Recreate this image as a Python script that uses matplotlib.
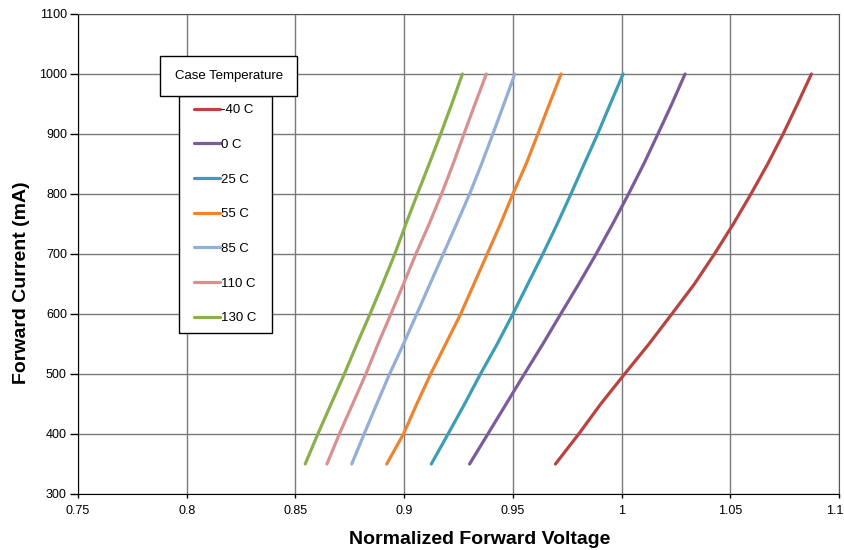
import matplotlib.pyplot as plt
import matplotlib.transforms as mtransforms
from matplotlib.patches import Rectangle

plt.rcParams['font.family'] = ['Liberation Sans', 'DejaVu Sans']

# Forward current points (mA), same for every curve
current = [350, 400, 450, 500, 550, 600, 650, 700, 750, 800, 850, 900, 950, 1000]

# Normalized forward voltage, one list per case temperature
v_m40 = [0.9696, 0.9803, 0.9904, 1.0014, 1.0126, 1.0231, 1.0335, 1.0427, 1.0514,
         1.0595, 1.0672, 1.0743, 1.0809, 1.0873]
v_0 = [0.9301, 0.9385, 0.9469, 0.9553, 0.9638, 0.9720, 0.9803, 0.9883, 0.9959,
       1.0032, 1.0102, 1.0167, 1.0231, 1.0292]
v_25 = [0.9125, 0.9202, 0.9278, 0.9351, 0.9428, 0.9500, 0.9569, 0.9638, 0.9704,
        0.9767, 0.9828, 0.9890, 0.9948, 1.0007]
v_55 = [0.8920, 0.8997, 0.9058, 0.9122, 0.9191, 0.9260, 0.9321, 0.9382, 0.9443,
        0.9500, 0.9561, 0.9615, 0.9668, 0.9722]
v_85 = [0.8759, 0.8816, 0.8874, 0.8933, 0.8997, 0.9058, 0.9119, 0.9180, 0.9241,
        0.9301, 0.9356, 0.9408, 0.9459, 0.9509]
v_110 = [0.8645, 0.8702, 0.8763, 0.8824, 0.8880, 0.8939, 0.8997, 0.9054, 0.9115,
         0.9172, 0.9225, 0.9275, 0.9326, 0.9378]
v_130 = [0.8545, 0.8603, 0.8664, 0.8725, 0.8783, 0.8843, 0.8901, 0.8957, 0.9008,
         0.9061, 0.9115, 0.9168, 0.9219, 0.9268]

labels = ['-40 C', '0 C', '25 C', '55 C', '85 C', '110 C', '130 C']
series = [v_m40, v_0, v_25, v_55, v_85, v_110, v_130]
colors = ['#B8433F', '#7A5C9C', '#3C9DB5', '#EC8431', '#93AED7', '#D79290', '#8BAF4C']

x_ticks = [0.75, 0.8, 0.85, 0.9, 0.95, 1, 1.05, 1.1]
x_ticklabels = ['0.75', '0.8', '0.85', '0.9', '0.95', '1', '1.05', '1.1']
y_ticks = [300, 400, 500, 600, 700, 800, 900, 1000, 1100]

fig = plt.figure(figsize=(8.45, 5.5), dpi=100)
ax = fig.add_axes([78 / 845, 1 - 494 / 550, 761 / 845, 480 / 550])

for v, lab, c in zip(series, labels, colors):
    ax.plot(v, current, color=c, lw=2.3, label=lab, solid_capstyle='round',
            solid_joinstyle='round', zorder=3)

ax.set_xlim(0.75, 1.1)
ax.set_ylim(300, 1100)
ax.set_xticks(x_ticks)
ax.set_xticklabels(x_ticklabels)
ax.set_yticks(y_ticks)
ax.grid(True, color='#7a7a7a', lw=1.0, zorder=0)
ax.set_axisbelow(True)
for s in ax.spines.values():
    s.set_color('#555555')
ax.spines['left'].set_color('black')
ax.spines['bottom'].set_color('black')
ax.tick_params(axis='y', length=6, width=1, pad=2, labelsize=9)
ax.tick_params(axis='x', length=3, width=1, pad=5, labelsize=9)

# keep the last x label inside the picture
last = ax.get_xticklabels()[-1]
last.set_transform(last.get_transform() +
                   mtransforms.ScaledTranslation(-4 / 100, 0, fig.dpi_scale_trans))

ax.set_xlabel('Normalized Forward Voltage', fontsize=14, fontweight='bold')
ax.set_ylabel('Forward Current (mA)', fontsize=14, fontweight='bold')
ax.xaxis.set_label_coords(0.528, -0.077)
ax.yaxis.set_label_coords(-0.063, 0.44)

# legend box and separate title box
ax.add_patch(Rectangle(((179 - 78) / 761, (494 - 333) / 480), 93 / 761, 237 / 480,
                       transform=ax.transAxes, facecolor='white', edgecolor='black',
                       lw=1, zorder=4))
leg = ax.legend(loc='upper left', bbox_to_anchor=((194 - 78) / 761, (494 - 104) / 480),
                frameon=False, borderpad=0, borderaxespad=0, handlelength=2.0,
                handletextpad=0.05, labelspacing=1.7, fontsize=9.5)
leg.set_zorder(5)
ax.add_patch(Rectangle(((160 - 78) / 761, (494 - 96) / 480), 137 / 761, 40 / 480,
                       transform=ax.transAxes, facecolor='white', edgecolor='black',
                       lw=1, zorder=6))
ax.text((229 - 78) / 761, (494 - 76) / 480, 'Case Temperature', transform=ax.transAxes,
        ha='center', va='center', fontsize=9.5, zorder=7)

fig.savefig('out.png', dpi=100)
